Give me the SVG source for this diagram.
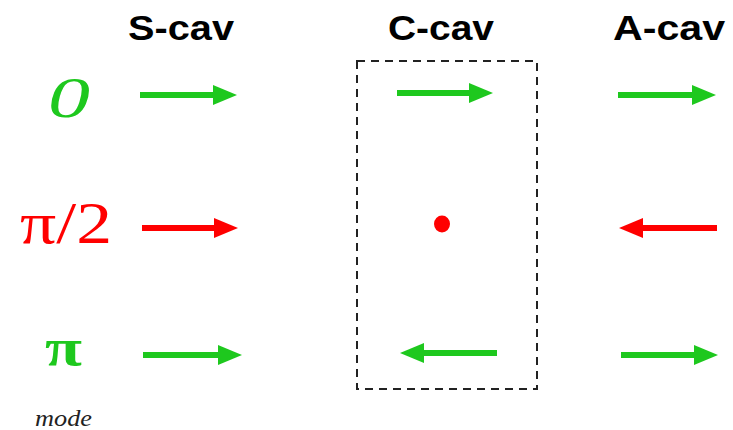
<svg xmlns="http://www.w3.org/2000/svg" width="733" height="430" viewBox="0 0 733 430">
<style>
.hdr{font-family:"Liberation Sans",Arial,sans-serif;font-weight:bold;font-size:35px;fill:#000}
.g{stroke:#1ec81e;stroke-width:6;fill:none}
.r{stroke:#ff0000;stroke-width:6;fill:none}
.lbl{font-family:"Liberation Serif","Times New Roman",serif}
</style>
<defs>
<marker id="hg" markerUnits="userSpaceOnUse" markerWidth="26" markerHeight="22" refX="1" refY="10" orient="auto" overflow="visible">
<polygon points="0,0 24,10 0,20" fill="#1ec81e"/>
</marker>
<marker id="hr" markerUnits="userSpaceOnUse" markerWidth="26" markerHeight="22" refX="1" refY="10" orient="auto" overflow="visible">
<polygon points="0,0 24,10 0,20" fill="#ff0000"/>
</marker>
</defs>
<rect width="733" height="430" fill="#fff"/>
<g id="headers">
<text class="hdr" x="128" y="40" textLength="106" lengthAdjust="spacingAndGlyphs">S-cav</text>
<text class="hdr" x="388" y="40" textLength="106" lengthAdjust="spacingAndGlyphs">C-cav</text>
<text class="hdr" x="613" y="40" textLength="112" lengthAdjust="spacingAndGlyphs">A-cav</text>
</g>
<g id="mode-labels">
<text class="lbl" x="48" y="117" font-size="58" font-style="italic" fill="#1ec81e" textLength="42" lengthAdjust="spacingAndGlyphs">0</text>
<text class="lbl" x="20" y="243" font-size="60" fill="#ff0000" textLength="92" lengthAdjust="spacingAndGlyphs">π/2</text>
<text class="lbl" x="45" y="365" font-size="52" font-weight="bold" fill="#1ec81e" textLength="37" lengthAdjust="spacingAndGlyphs">π</text>
<text class="lbl" x="35" y="426" font-size="23" font-style="italic" fill="#222" textLength="57" lengthAdjust="spacingAndGlyphs">mode</text>
</g>
<g id="c-cav-box">
<rect x="357" y="61" width="180" height="328" fill="none" stroke="#222" stroke-width="2" stroke-dasharray="8,6"/>
<ellipse cx="442" cy="224" rx="8" ry="8.5" fill="#ff0000"/>
</g>
<g id="connectors">
<line class="g" x1="140" y1="95" x2="214" y2="95" marker-end="url(#hg)"/>
<line class="r" x1="142" y1="228" x2="215" y2="228" marker-end="url(#hr)"/>
<line class="g" x1="143" y1="355" x2="219" y2="355" marker-end="url(#hg)"/>
<line class="g" x1="397" y1="93" x2="470" y2="93" marker-end="url(#hg)"/>
<line class="g" x1="497" y1="353" x2="423" y2="353" marker-end="url(#hg)"/>
<line class="g" x1="618" y1="95" x2="693" y2="95" marker-end="url(#hg)"/>
<line class="r" x1="717" y1="228" x2="642" y2="228" marker-end="url(#hr)"/>
<line class="g" x1="621" y1="355" x2="695" y2="355" marker-end="url(#hg)"/>
</g>
</svg>
